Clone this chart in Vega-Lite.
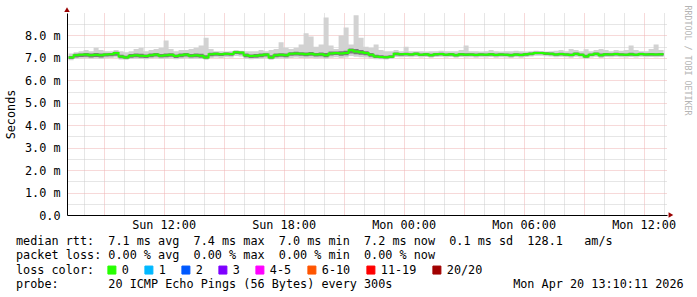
{
  "$schema": "https://vega.github.io/schema/vega-lite/v6.json",
  "width": 600,
  "height": 202,
  "autosize": {"type": "none"},
  "padding": {"left": 67, "top": 13, "right": 30, "bottom": 82},
  "background": "#ffffff",
  "config": {"view": {"stroke": null}, "font": "DejaVu Sans Mono"},
  "title": {
    "text": [
      "median rtt:\u00a0\u00a07.1\u00a0ms\u00a0avg\u00a0\u00a07.4\u00a0ms\u00a0max\u00a0\u00a07.0\u00a0ms\u00a0min\u00a0\u00a07.2\u00a0ms\u00a0now\u00a0\u00a00.1\u00a0ms\u00a0sd\u00a0\u00a0128.1\u00a0\u00a0\u00a0am/s",
      "packet\u00a0loss:\u00a00.00\u00a0%\u00a0avg\u00a0\u00a00.00\u00a0%\u00a0max\u00a0\u00a00.00\u00a0%\u00a0min\u00a0\u00a00.00\u00a0%\u00a0now",
      "loss\u00a0color:",
      "probe:\u00a0\u00a0\u00a0\u00a0\u00a0\u00a0\u00a020\u00a0ICMP\u00a0Echo\u00a0Pings\u00a0(56\u00a0Bytes)\u00a0every\u00a0300s\u00a0\u00a0\u00a0\u00a0\u00a0\u00a0\u00a0\u00a0\u00a0\u00a0\u00a0\u00a0\u00a0\u00a0\u00a0\u00a0\u00a0Mon\u00a0Apr\u00a020\u00a013:10:11\u00a02026"
    ],
    "orient": "bottom",
    "anchor": "start",
    "frame": "group",
    "font": "DejaVu Sans Mono",
    "fontSize": 11.8,
    "fontWeight": "normal",
    "color": "#000000",
    "lineHeight": 14.3,
    "dx": -51,
    "offset": -41
  },
  "data": {
    "values": [
      {"t":"2026-04-19T07:15:00Z","med":7.02,"lo":6.90,"q1":6.95,"q3":7.08,"hi":7.20,"loss":"0"},
      {"t":"2026-04-19T07:30:00Z","med":7.12,"lo":6.96,"q1":7.02,"q3":7.18,"hi":7.25,"loss":"0"},
      {"t":"2026-04-19T07:45:00Z","med":7.14,"lo":6.97,"q1":7.04,"q3":7.20,"hi":7.30,"loss":"0"},
      {"t":"2026-04-19T08:00:00Z","med":7.15,"lo":6.98,"q1":7.05,"q3":7.22,"hi":7.35,"loss":"0"},
      {"t":"2026-04-19T08:15:00Z","med":7.12,"lo":6.96,"q1":7.02,"q3":7.19,"hi":7.30,"loss":"0"},
      {"t":"2026-04-19T08:30:00Z","med":7.14,"lo":6.97,"q1":7.04,"q3":7.22,"hi":7.45,"loss":"0"},
      {"t":"2026-04-19T08:45:00Z","med":7.12,"lo":6.95,"q1":7.02,"q3":7.19,"hi":7.35,"loss":"0"},
      {"t":"2026-04-19T09:00:00Z","med":7.15,"lo":6.98,"q1":7.06,"q3":7.21,"hi":7.30,"loss":"0"},
      {"t":"2026-04-19T09:15:00Z","med":7.16,"lo":6.99,"q1":7.07,"q3":7.22,"hi":7.30,"loss":"0"},
      {"t":"2026-04-19T09:30:00Z","med":7.22,"lo":7.02,"q1":7.10,"q3":7.27,"hi":7.35,"loss":"0"},
      {"t":"2026-04-19T09:45:00Z","med":7.06,"lo":6.93,"q1":6.98,"q3":7.14,"hi":7.30,"loss":"0"},
      {"t":"2026-04-19T10:00:00Z","med":7.02,"lo":6.92,"q1":6.96,"q3":7.10,"hi":7.25,"loss":"0"},
      {"t":"2026-04-19T10:15:00Z","med":7.10,"lo":6.95,"q1":7.01,"q3":7.17,"hi":7.30,"loss":"0"},
      {"t":"2026-04-19T10:30:00Z","med":7.12,"lo":6.96,"q1":7.03,"q3":7.19,"hi":7.40,"loss":"0"},
      {"t":"2026-04-19T10:45:00Z","med":7.10,"lo":6.95,"q1":7.01,"q3":7.18,"hi":7.45,"loss":"0"},
      {"t":"2026-04-19T11:00:00Z","med":7.08,"lo":6.94,"q1":7.00,"q3":7.15,"hi":7.30,"loss":"0"},
      {"t":"2026-04-19T11:15:00Z","med":7.12,"lo":6.97,"q1":7.03,"q3":7.19,"hi":7.35,"loss":"0"},
      {"t":"2026-04-19T11:30:00Z","med":7.15,"lo":6.98,"q1":7.06,"q3":7.22,"hi":7.40,"loss":"0"},
      {"t":"2026-04-19T11:45:00Z","med":7.10,"lo":6.95,"q1":7.02,"q3":7.17,"hi":7.45,"loss":"0"},
      {"t":"2026-04-19T12:00:00Z","med":7.12,"lo":6.96,"q1":7.03,"q3":7.20,"hi":7.78,"loss":"0"},
      {"t":"2026-04-19T12:15:00Z","med":7.14,"lo":6.97,"q1":7.05,"q3":7.21,"hi":7.40,"loss":"0"},
      {"t":"2026-04-19T12:30:00Z","med":7.08,"lo":6.94,"q1":7.00,"q3":7.15,"hi":7.30,"loss":"0"},
      {"t":"2026-04-19T12:45:00Z","med":7.12,"lo":6.96,"q1":7.03,"q3":7.19,"hi":7.35,"loss":"0"},
      {"t":"2026-04-19T13:00:00Z","med":7.15,"lo":6.98,"q1":7.06,"q3":7.22,"hi":7.35,"loss":"0"},
      {"t":"2026-04-19T13:15:00Z","med":7.10,"lo":6.95,"q1":7.02,"q3":7.17,"hi":7.40,"loss":"0"},
      {"t":"2026-04-19T13:30:00Z","med":7.12,"lo":6.96,"q1":7.03,"q3":7.19,"hi":7.45,"loss":"0"},
      {"t":"2026-04-19T13:45:00Z","med":7.10,"lo":6.95,"q1":7.01,"q3":7.18,"hi":7.55,"loss":"0"},
      {"t":"2026-04-19T14:00:00Z","med":7.02,"lo":6.92,"q1":6.96,"q3":7.12,"hi":7.90,"loss":"0"},
      {"t":"2026-04-19T14:15:00Z","med":7.16,"lo":6.99,"q1":7.07,"q3":7.23,"hi":7.40,"loss":"0"},
      {"t":"2026-04-19T14:30:00Z","med":7.18,"lo":7.02,"q1":7.10,"q3":7.24,"hi":7.30,"loss":"0"},
      {"t":"2026-04-19T14:45:00Z","med":7.16,"lo":7.00,"q1":7.08,"q3":7.22,"hi":7.30,"loss":"0"},
      {"t":"2026-04-19T15:00:00Z","med":7.18,"lo":7.03,"q1":7.11,"q3":7.24,"hi":7.28,"loss":"0"},
      {"t":"2026-04-19T15:15:00Z","med":7.17,"lo":7.02,"q1":7.10,"q3":7.23,"hi":7.30,"loss":"0"},
      {"t":"2026-04-19T15:30:00Z","med":7.25,"lo":7.08,"q1":7.17,"q3":7.30,"hi":7.35,"loss":"0"},
      {"t":"2026-04-19T15:45:00Z","med":7.24,"lo":7.06,"q1":7.15,"q3":7.29,"hi":7.32,"loss":"0"},
      {"t":"2026-04-19T16:00:00Z","med":7.12,"lo":6.96,"q1":7.03,"q3":7.19,"hi":7.30,"loss":"0"},
      {"t":"2026-04-19T16:15:00Z","med":7.08,"lo":6.94,"q1":7.00,"q3":7.15,"hi":7.30,"loss":"0"},
      {"t":"2026-04-19T16:30:00Z","med":7.10,"lo":6.95,"q1":7.01,"q3":7.17,"hi":7.30,"loss":"0"},
      {"t":"2026-04-19T16:45:00Z","med":7.12,"lo":6.96,"q1":7.03,"q3":7.19,"hi":7.35,"loss":"0"},
      {"t":"2026-04-19T17:00:00Z","med":7.15,"lo":6.98,"q1":7.06,"q3":7.21,"hi":7.30,"loss":"0"},
      {"t":"2026-04-19T17:15:00Z","med":7.02,"lo":6.92,"q1":6.96,"q3":7.12,"hi":7.35,"loss":"0"},
      {"t":"2026-04-19T17:30:00Z","med":7.12,"lo":6.96,"q1":7.03,"q3":7.19,"hi":7.40,"loss":"0"},
      {"t":"2026-04-19T17:45:00Z","med":7.14,"lo":6.97,"q1":7.05,"q3":7.21,"hi":7.70,"loss":"0"},
      {"t":"2026-04-19T18:00:00Z","med":7.12,"lo":6.96,"q1":7.03,"q3":7.19,"hi":7.45,"loss":"0"},
      {"t":"2026-04-19T18:15:00Z","med":7.18,"lo":7.00,"q1":7.09,"q3":7.25,"hi":7.40,"loss":"0"},
      {"t":"2026-04-19T18:30:00Z","med":7.20,"lo":7.02,"q1":7.11,"q3":7.27,"hi":7.45,"loss":"0"},
      {"t":"2026-04-19T18:45:00Z","med":7.18,"lo":7.00,"q1":7.09,"q3":7.25,"hi":7.60,"loss":"0"},
      {"t":"2026-04-19T19:00:00Z","med":7.16,"lo":6.98,"q1":7.07,"q3":7.24,"hi":8.10,"loss":"0"},
      {"t":"2026-04-19T19:15:00Z","med":7.18,"lo":7.00,"q1":7.09,"q3":7.26,"hi":7.95,"loss":"0"},
      {"t":"2026-04-19T19:30:00Z","med":7.15,"lo":6.97,"q1":7.06,"q3":7.22,"hi":7.50,"loss":"0"},
      {"t":"2026-04-19T19:45:00Z","med":7.16,"lo":6.98,"q1":7.07,"q3":7.24,"hi":7.60,"loss":"0"},
      {"t":"2026-04-19T20:00:00Z","med":7.12,"lo":6.96,"q1":7.03,"q3":7.22,"hi":8.80,"loss":"0"},
      {"t":"2026-04-19T20:15:00Z","med":7.20,"lo":7.01,"q1":7.11,"q3":7.28,"hi":7.55,"loss":"0"},
      {"t":"2026-04-19T20:30:00Z","med":7.22,"lo":7.03,"q1":7.13,"q3":7.29,"hi":7.40,"loss":"0"},
      {"t":"2026-04-19T20:45:00Z","med":7.20,"lo":7.00,"q1":7.10,"q3":7.30,"hi":8.00,"loss":"0"},
      {"t":"2026-04-19T21:00:00Z","med":7.22,"lo":7.02,"q1":7.12,"q3":7.32,"hi":8.35,"loss":"0"},
      {"t":"2026-04-19T21:15:00Z","med":7.34,"lo":7.08,"q1":7.20,"q3":7.42,"hi":7.60,"loss":"0"},
      {"t":"2026-04-19T21:30:00Z","med":7.28,"lo":7.05,"q1":7.16,"q3":7.40,"hi":8.90,"loss":"0"},
      {"t":"2026-04-19T21:45:00Z","med":7.25,"lo":7.03,"q1":7.14,"q3":7.35,"hi":7.90,"loss":"0"},
      {"t":"2026-04-19T22:00:00Z","med":7.22,"lo":7.02,"q1":7.12,"q3":7.30,"hi":7.50,"loss":"0"},
      {"t":"2026-04-19T22:15:00Z","med":7.14,"lo":6.97,"q1":7.05,"q3":7.22,"hi":7.45,"loss":"0"},
      {"t":"2026-04-19T22:30:00Z","med":7.06,"lo":6.94,"q1":6.99,"q3":7.14,"hi":7.60,"loss":"0"},
      {"t":"2026-04-19T22:45:00Z","med":7.04,"lo":6.94,"q1":6.98,"q3":7.12,"hi":7.35,"loss":"0"},
      {"t":"2026-04-19T23:00:00Z","med":7.03,"lo":6.93,"q1":6.97,"q3":7.10,"hi":7.30,"loss":"0"},
      {"t":"2026-04-19T23:15:00Z","med":7.05,"lo":6.95,"q1":6.99,"q3":7.12,"hi":7.30,"loss":"0"},
      {"t":"2026-04-19T23:30:00Z","med":7.18,"lo":7.04,"q1":7.11,"q3":7.24,"hi":7.35,"loss":"0"},
      {"t":"2026-04-19T23:45:00Z","med":7.16,"lo":7.03,"q1":7.10,"q3":7.22,"hi":7.30,"loss":"0"},
      {"t":"2026-04-20T00:00:00Z","med":7.17,"lo":7.04,"q1":7.11,"q3":7.23,"hi":7.50,"loss":"0"},
      {"t":"2026-04-20T00:15:00Z","med":7.15,"lo":7.03,"q1":7.09,"q3":7.21,"hi":7.30,"loss":"0"},
      {"t":"2026-04-20T00:30:00Z","med":7.18,"lo":7.05,"q1":7.12,"q3":7.24,"hi":7.30,"loss":"0"},
      {"t":"2026-04-20T00:45:00Z","med":7.14,"lo":7.02,"q1":7.08,"q3":7.20,"hi":7.30,"loss":"0"},
      {"t":"2026-04-20T01:00:00Z","med":7.16,"lo":7.04,"q1":7.10,"q3":7.22,"hi":7.28,"loss":"0"},
      {"t":"2026-04-20T01:15:00Z","med":7.12,"lo":7.01,"q1":7.06,"q3":7.18,"hi":7.30,"loss":"0"},
      {"t":"2026-04-20T01:30:00Z","med":7.16,"lo":7.04,"q1":7.10,"q3":7.22,"hi":7.30,"loss":"0"},
      {"t":"2026-04-20T01:45:00Z","med":7.17,"lo":7.05,"q1":7.11,"q3":7.23,"hi":7.32,"loss":"0"},
      {"t":"2026-04-20T02:00:00Z","med":7.14,"lo":7.02,"q1":7.08,"q3":7.20,"hi":7.30,"loss":"0"},
      {"t":"2026-04-20T02:15:00Z","med":7.16,"lo":7.04,"q1":7.10,"q3":7.22,"hi":7.30,"loss":"0"},
      {"t":"2026-04-20T02:30:00Z","med":7.12,"lo":7.01,"q1":7.06,"q3":7.18,"hi":7.30,"loss":"0"},
      {"t":"2026-04-20T02:45:00Z","med":7.16,"lo":7.04,"q1":7.10,"q3":7.22,"hi":7.35,"loss":"0"},
      {"t":"2026-04-20T03:00:00Z","med":7.14,"lo":7.02,"q1":7.08,"q3":7.21,"hi":7.55,"loss":"0"},
      {"t":"2026-04-20T03:15:00Z","med":7.15,"lo":7.03,"q1":7.09,"q3":7.21,"hi":7.30,"loss":"0"},
      {"t":"2026-04-20T03:30:00Z","med":7.13,"lo":7.01,"q1":7.07,"q3":7.19,"hi":7.30,"loss":"0"},
      {"t":"2026-04-20T03:45:00Z","med":7.15,"lo":7.03,"q1":7.09,"q3":7.21,"hi":7.28,"loss":"0"},
      {"t":"2026-04-20T04:00:00Z","med":7.14,"lo":7.02,"q1":7.08,"q3":7.20,"hi":7.30,"loss":"0"},
      {"t":"2026-04-20T04:15:00Z","med":7.16,"lo":7.04,"q1":7.10,"q3":7.22,"hi":7.35,"loss":"0"},
      {"t":"2026-04-20T04:30:00Z","med":7.13,"lo":7.01,"q1":7.07,"q3":7.19,"hi":7.30,"loss":"0"},
      {"t":"2026-04-20T04:45:00Z","med":7.15,"lo":7.03,"q1":7.09,"q3":7.21,"hi":7.28,"loss":"0"},
      {"t":"2026-04-20T05:00:00Z","med":7.14,"lo":7.02,"q1":7.08,"q3":7.20,"hi":7.30,"loss":"0"},
      {"t":"2026-04-20T05:15:00Z","med":7.12,"lo":7.00,"q1":7.06,"q3":7.18,"hi":7.30,"loss":"0"},
      {"t":"2026-04-20T05:30:00Z","med":7.15,"lo":7.03,"q1":7.09,"q3":7.21,"hi":7.32,"loss":"0"},
      {"t":"2026-04-20T05:45:00Z","med":7.13,"lo":7.01,"q1":7.07,"q3":7.19,"hi":7.30,"loss":"0"},
      {"t":"2026-04-20T06:00:00Z","med":7.16,"lo":7.04,"q1":7.10,"q3":7.22,"hi":7.28,"loss":"0"},
      {"t":"2026-04-20T06:15:00Z","med":7.18,"lo":7.06,"q1":7.12,"q3":7.24,"hi":7.30,"loss":"0"},
      {"t":"2026-04-20T06:30:00Z","med":7.22,"lo":7.09,"q1":7.16,"q3":7.27,"hi":7.32,"loss":"0"},
      {"t":"2026-04-20T06:45:00Z","med":7.22,"lo":7.09,"q1":7.16,"q3":7.27,"hi":7.30,"loss":"0"},
      {"t":"2026-04-20T07:00:00Z","med":7.19,"lo":7.07,"q1":7.13,"q3":7.25,"hi":7.28,"loss":"0"},
      {"t":"2026-04-20T07:15:00Z","med":7.18,"lo":7.06,"q1":7.12,"q3":7.24,"hi":7.30,"loss":"0"},
      {"t":"2026-04-20T07:30:00Z","med":7.15,"lo":7.03,"q1":7.09,"q3":7.21,"hi":7.32,"loss":"0"},
      {"t":"2026-04-20T07:45:00Z","med":7.17,"lo":7.05,"q1":7.11,"q3":7.23,"hi":7.35,"loss":"0"},
      {"t":"2026-04-20T08:00:00Z","med":7.15,"lo":7.03,"q1":7.09,"q3":7.21,"hi":7.30,"loss":"0"},
      {"t":"2026-04-20T08:15:00Z","med":7.13,"lo":7.01,"q1":7.07,"q3":7.20,"hi":7.40,"loss":"0"},
      {"t":"2026-04-20T08:30:00Z","med":7.18,"lo":7.05,"q1":7.12,"q3":7.24,"hi":7.35,"loss":"0"},
      {"t":"2026-04-20T08:45:00Z","med":7.14,"lo":7.02,"q1":7.08,"q3":7.20,"hi":7.30,"loss":"0"},
      {"t":"2026-04-20T09:00:00Z","med":7.06,"lo":6.96,"q1":7.01,"q3":7.14,"hi":7.38,"loss":"0"},
      {"t":"2026-04-20T09:15:00Z","med":7.14,"lo":7.02,"q1":7.08,"q3":7.20,"hi":7.30,"loss":"0"},
      {"t":"2026-04-20T09:30:00Z","med":7.18,"lo":7.05,"q1":7.12,"q3":7.24,"hi":7.35,"loss":"0"},
      {"t":"2026-04-20T09:45:00Z","med":7.12,"lo":7.00,"q1":7.06,"q3":7.19,"hi":7.40,"loss":"0"},
      {"t":"2026-04-20T10:00:00Z","med":7.16,"lo":7.04,"q1":7.10,"q3":7.22,"hi":7.35,"loss":"0"},
      {"t":"2026-04-20T10:15:00Z","med":7.15,"lo":7.03,"q1":7.09,"q3":7.21,"hi":7.30,"loss":"0"},
      {"t":"2026-04-20T10:30:00Z","med":7.17,"lo":7.05,"q1":7.11,"q3":7.23,"hi":7.35,"loss":"0"},
      {"t":"2026-04-20T10:45:00Z","med":7.15,"lo":7.03,"q1":7.09,"q3":7.21,"hi":7.32,"loss":"0"},
      {"t":"2026-04-20T11:00:00Z","med":7.14,"lo":7.02,"q1":7.08,"q3":7.20,"hi":7.35,"loss":"0"},
      {"t":"2026-04-20T11:15:00Z","med":7.16,"lo":7.04,"q1":7.10,"q3":7.23,"hi":7.55,"loss":"0"},
      {"t":"2026-04-20T11:30:00Z","med":7.14,"lo":7.02,"q1":7.08,"q3":7.20,"hi":7.35,"loss":"0"},
      {"t":"2026-04-20T11:45:00Z","med":7.17,"lo":7.05,"q1":7.11,"q3":7.23,"hi":7.30,"loss":"0"},
      {"t":"2026-04-20T12:00:00Z","med":7.15,"lo":7.03,"q1":7.09,"q3":7.21,"hi":7.30,"loss":"0"},
      {"t":"2026-04-20T12:15:00Z","med":7.16,"lo":7.04,"q1":7.10,"q3":7.22,"hi":7.40,"loss":"0"},
      {"t":"2026-04-20T12:30:00Z","med":7.15,"lo":7.03,"q1":7.09,"q3":7.21,"hi":7.60,"loss":"0"},
      {"t":"2026-04-20T12:45:00Z","med":7.16,"lo":7.04,"q1":7.10,"q3":7.22,"hi":7.35,"loss":"0"},
      {"t":"2026-04-20T13:00:00Z","med":7.16,"lo":7.04,"q1":7.10,"q3":7.22,"hi":7.30,"loss":"0"}
    ]
  },
  "layer": [
    {
      "mark": {"type": "area", "interpolate": "step-after", "color": "#d2d2d2"},
      "encoding": {
        "x": {
          "field": "t", "type": "temporal",
          "scale": {"type": "utc", "domain": [1776582611000, 1776690611000]},
          "axis": {"orient": "bottom", "grid": true, "gridColor": "#cccccc", "gridDash": [1, 1],
                   "values": [1776585600000, 1776592800000, 1776596400000, 1776603600000, 1776607200000,
                              1776614400000, 1776618000000, 1776625200000, 1776628800000, 1776636000000,
                              1776639600000, 1776646800000, 1776650400000, 1776657600000, 1776661200000,
                              1776668400000, 1776672000000, 1776679200000, 1776682800000, 1776690000000],
                   "labels": false, "ticks": false, "domain": false, "title": null}
        },
        "y": {
          "field": "lo", "type": "quantitative",
          "scale": {"domain": [0, 9], "nice": false},
          "axis": {"orient": "left", "values": [0.5, 1.5, 2.5, 3.5, 4.5, 5.5, 6.5, 7.5, 8.5],
                   "grid": true, "gridColor": "#cccccc", "gridDash": [1, 1],
                   "labels": false, "ticks": false, "domain": false, "title": null}
        },
        "y2": {"field": "hi"}
      }
    },
    {
      "mark": {"type": "area", "interpolate": "step-after", "color": "#7a7a7a"},
      "encoding": {
        "x": {
          "field": "t", "type": "temporal",
          "axis": {"orient": "bottom", "grid": true, "gridColor": "#efb3b3", "gridDash": [1, 1],
                   "values": [1776589200000, 1776600000000, 1776610800000, 1776621600000, 1776632400000,
                              1776643200000, 1776654000000, 1776664800000, 1776675600000, 1776686400000],
                   "labels": false, "ticks": false, "domain": false, "title": null}
        },
        "y": {
          "field": "q1", "type": "quantitative",
          "axis": {"orient": "left", "values": [1, 2, 3, 4, 5, 6, 7, 8],
                   "grid": true, "gridColor": "#efb3b3", "gridDash": [1, 1],
                   "labels": false, "ticks": false, "domain": false, "title": null}
        },
        "y2": {"field": "q3"}
      }
    },
    {
      "mark": {"type": "line", "interpolate": "step-after", "strokeWidth": 2},
      "encoding": {
        "x": {
          "field": "t", "type": "temporal",
          "axis": {"orient": "bottom", "grid": false,
                   "values": [1776600000000, 1776621600000, 1776643200000, 1776664800000, 1776686400000],
                   "format": "%a %H:%M", "labelFont": "DejaVu Sans Mono", "labelFontSize": 11.8,
                   "labelColor": "#000000", "labelPadding": 4, "ticks": false,
                   "domain": true, "domainColor": "#000000", "domainWidth": 1, "title": null,
                   "labelFlush": false, "labelOverlap": false}
        },
        "y": {
          "field": "med", "type": "quantitative",
          "axis": {"orient": "left", "values": [0, 1, 2, 3, 4, 5, 6, 7, 8], "grid": false,
                   "labelExpr": "datum.value == 0 ? '0.0\u00a0\u00a0' : format(datum.value, '.1f') + '\u00a0m'",
                   "labelFont": "DejaVu Sans Mono", "labelFontSize": 11.8, "labelColor": "#000000",
                   "labelPadding": 7, "ticks": false, "labelFlush": false, "labelOverlap": false,
                   "domain": true, "domainColor": "#000000", "domainWidth": 1,
                   "title": "Seconds", "titleFont": "DejaVu Sans Mono", "titleFontSize": 11.8,
                   "titleFontWeight": "normal", "titleColor": "#000000",
                   "titleX": -57, "titleY": 101, "titleAngle": -90,
                   "titleAlign": "center", "titleBaseline": "middle"}
        },
        "color": {
          "field": "loss", "type": "nominal",
          "scale": {"domain": ["0", "1", "2", "3", "4-5", "6-10", "11-19", "20/20"],
                    "range": ["#26ff00", "#00b8ff", "#0059ff", "#7e00ff", "#ff00fe", "#ff5500", "#ff0000", "#a10000"]},
          "legend": {
            "orient": "none", "legendX": 39, "legendY": 251,
            "direction": "horizontal", "title": null, "padding": 0,
            "symbolType": "square", "symbolSize": 64,
            "labelFont": "DejaVu Sans Mono", "labelFontSize": 11.8, "labelColor": "#000000",
            "labelOffset": 4, "columnPadding": 13,
            "encode": {"symbols": {"update": {
              "fill": {"scale": "color", "field": "value"},
              "stroke": {"value": "#000000"},
              "strokeWidth": {"value": 1},
              "opacity": {"value": 1}
            }}}
          }
        }
      }
    },
    {
      "data": {"values": [{}]},
      "mark": {"type": "point", "shape": "triangle-up", "filled": true, "size": 30, "color": "#990000", "opacity": 1},
      "encoding": {
        "x": {"datum": 1776582611000, "type": "temporal", "axis": null},
        "y": {"datum": 9.15, "type": "quantitative",
              "axis": {"orient": "right", "grid": false, "labels": false, "ticks": false, "domain": false,
                       "title": "RRDTOOL / TOBI OETIKER", "titleFont": "DejaVu Sans Mono",
                       "titleFontSize": 8.3, "titleFontWeight": "normal", "titleColor": "#b4b4b4",
                       "titleAngle": 90, "titleX": 19, "titleY": -8,
                       "titleAlign": "left", "titleBaseline": "middle"}}
      }
    },
    {
      "data": {"values": [{}]},
      "mark": {"type": "point", "shape": "triangle-right", "filled": true, "size": 30, "color": "#990000", "opacity": 1},
      "encoding": {
        "x": {"datum": 1776691320000, "type": "temporal", "axis": null},
        "y": {"datum": 0, "type": "quantitative", "axis": null}
      }
    }
  ],
  "resolve": {"axis": {"x": "independent", "y": "independent"}}
}
